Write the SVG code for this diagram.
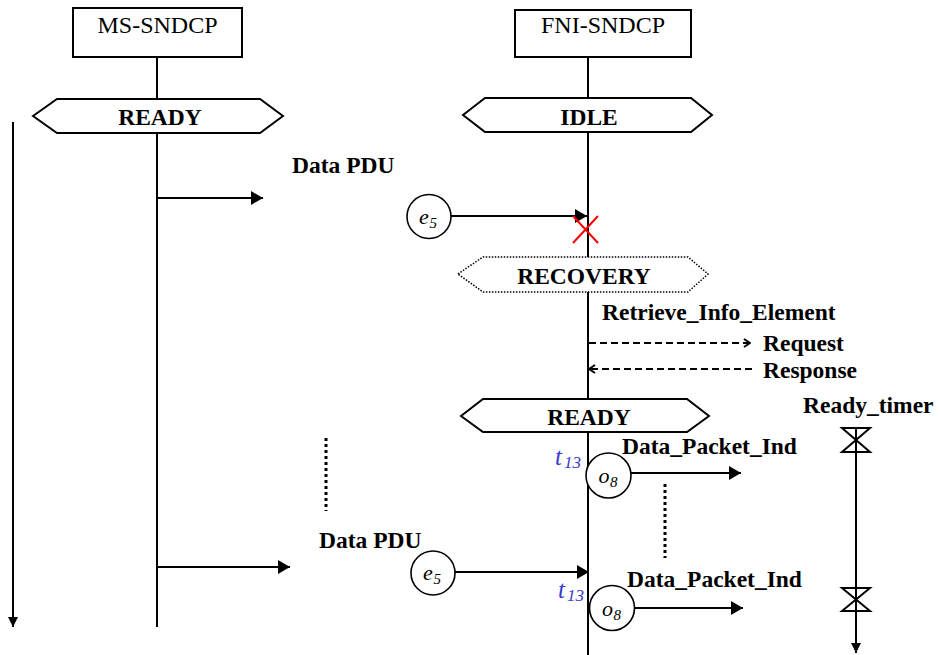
<svg xmlns="http://www.w3.org/2000/svg" width="940" height="655" viewBox="0 0 940 655">
  <style>
    .ln { stroke: #000; stroke-width: 2; fill: none; }
    .box { stroke: #000; stroke-width: 2; fill: #fff; }
    .hex { stroke: #000; stroke-width: 2; fill: #fff; }
    .hexdot { stroke: #000; stroke-width: 1.5; stroke-dasharray: 1.5 1.5; fill: #fff; }
    .dash { stroke: #000; stroke-width: 1.8; stroke-dasharray: 7 4; fill: none; }
    .dots { stroke: #000; stroke-width: 3; stroke-dasharray: 3 3; fill: none; }
    .ev { stroke: #000; stroke-width: 1.6; fill: #fff; }
    .reg { font-family: "Liberation Serif", "Times New Roman", serif; font-size: 24px; fill: #000; }
    .bold { font-family: "Liberation Serif", "Times New Roman", serif; font-size: 23.5px; font-weight: bold; fill: #000; }
    .it { font-family: "Liberation Serif", "Times New Roman", serif; font-style: italic; fill: #000; }
    .blue { fill: #3a3ad0; }
  </style>
  <defs>
    <marker id="fill" viewBox="0 0 12 14" refX="12" refY="7" markerWidth="12" markerHeight="14" markerUnits="userSpaceOnUse" orient="auto">
      <path d="M0,0 L12,7 L0,14 z" fill="#000"/>
    </marker>
    <marker id="fillS" viewBox="0 0 10 10" refX="10" refY="5" markerWidth="10" markerHeight="10" markerUnits="userSpaceOnUse" orient="auto">
      <path d="M0,0 L10,5 L0,10 z" fill="#000"/>
    </marker>
    <marker id="open" viewBox="0 0 8 10" refX="7" refY="5" markerWidth="8" markerHeight="10" markerUnits="userSpaceOnUse" orient="auto">
      <path d="M1,1 L7,5 L1,9" fill="none" stroke="#000" stroke-width="2"/>
    </marker>
  </defs>

  <!-- time axis -->
  <g id="time-axis">
    <line class="ln" x1="13" y1="122" x2="13" y2="627" marker-end="url(#fillS)"/>
  </g>

  <!-- lifelines and message arrows -->
  <g id="connectors">
    <line class="ln" x1="157" y1="57" x2="157" y2="627"/>
    <line class="ln" x1="588" y1="57" x2="588" y2="655"/>
    <line class="ln" x1="157" y1="198" x2="263" y2="198" marker-end="url(#fill)"/>
    <line class="ln" x1="451" y1="216" x2="587" y2="216" marker-end="url(#fill)"/>
    <line class="dash" x1="589" y1="343" x2="750" y2="343" marker-end="url(#open)"/>
    <line class="dash" x1="752" y1="369" x2="589" y2="369" marker-end="url(#open)"/>
    <line class="ln" x1="631" y1="473" x2="741" y2="473" marker-end="url(#fill)"/>
    <line class="ln" x1="157" y1="567" x2="290" y2="567" marker-end="url(#fill)"/>
    <line class="ln" x1="455" y1="572" x2="589" y2="572" marker-end="url(#fill)"/>
    <line class="ln" x1="634" y1="608" x2="743" y2="608" marker-end="url(#fill)"/>
    <line class="dots" x1="326" y1="438" x2="326" y2="511"/>
    <line class="dots" x1="665" y1="484" x2="665" y2="558"/>
  </g>

  <!-- lost signal mark -->
  <g id="discard" stroke="#ff0000" stroke-width="2">
    <line x1="573" y1="216" x2="598" y2="243"/>
    <line x1="598" y1="216" x2="573" y2="243"/>
  </g>

  <g id="ms-sndcp">
    <rect class="box" x="73" y="8" width="169" height="49"/>
    <text class="reg" x="157.5" y="33" text-anchor="middle">MS-SNDCP</text>
  </g>

  <g id="fni-sndcp">
    <rect class="box" x="515" y="10" width="176" height="47"/>
    <text class="reg" x="603" y="33" text-anchor="middle">FNI-SNDCP</text>
  </g>

  <g id="ms-ready">
    <polygon class="hex" points="33,116 57,99 260,99 283,116 260,133 57,133"/>
    <text class="bold" x="160" y="125" text-anchor="middle">READY</text>
  </g>

  <g id="fni-idle">
    <polygon class="hex" points="463,115 485,98 691,98 712,115 691,132 485,132"/>
    <text class="bold" x="589" y="125" text-anchor="middle">IDLE</text>
  </g>

  <g id="fni-recovery">
    <polygon class="hexdot" points="458,274 483,257 688,257 708,274 688,292 483,292"/>
    <text class="bold" x="584" y="284" text-anchor="middle">RECOVERY</text>
  </g>

  <g id="fni-ready">
    <polygon class="hex" points="461,416 483,399 687,399 709,416 687,432 483,432"/>
    <text class="bold" x="589" y="425" text-anchor="middle">READY</text>
  </g>

  <g id="msg-labels">
    <text class="bold" x="292" y="173">Data PDU</text>
    <text class="bold" x="319" y="548">Data PDU</text>
    <text class="bold" x="602" y="320">Retrieve_Info_Element</text>
    <text class="bold" x="763" y="351">Request</text>
    <text class="bold" x="763" y="378">Response</text>
    <text class="bold" x="622" y="454">Data_Packet_Ind</text>
    <text class="bold" x="627" y="587">Data_Packet_Ind</text>
  </g>

  <g id="event-e5-a">
    <circle class="ev" cx="429" cy="216.5" r="22"/>
    <text class="it" x="419" y="224" font-size="22">e</text>
    <text class="it" x="429.5" y="228" font-size="15">5</text>
  </g>

  <g id="event-e5-b">
    <circle class="ev" cx="433" cy="573" r="22"/>
    <text class="it" x="423" y="580" font-size="22">e</text>
    <text class="it" x="433.5" y="584" font-size="15">5</text>
  </g>

  <g id="output-o8-a">
    <circle class="ev" cx="608.5" cy="475.5" r="22.5"/>
    <text class="it" x="598.5" y="483" font-size="22">o</text>
    <text class="it" x="610" y="487" font-size="15">8</text>
    <text class="it blue" x="555" y="465" font-size="25">t</text>
    <text class="it blue" x="564" y="468" font-size="17">13</text>
  </g>

  <g id="output-o8-b">
    <circle class="ev" cx="612" cy="608" r="22.5"/>
    <text class="it" x="602" y="616" font-size="22">o</text>
    <text class="it" x="613.5" y="620" font-size="15">8</text>
    <text class="it blue" x="558" y="598" font-size="25">t</text>
    <text class="it blue" x="567" y="601" font-size="17">13</text>
  </g>

  <g id="ready-timer">
    <text class="bold" x="803" y="413">Ready_timer</text>
    <line class="ln" x1="856" y1="428" x2="856" y2="653" marker-end="url(#fillS)"/>
    <path class="ln" d="M842,428 L870,428 L842,452 L870,452 Z" fill="#fff"/>
    <path class="ln" d="M842,588 L870,588 L842,611 L870,611 Z" fill="#fff"/>
  </g>
</svg>
